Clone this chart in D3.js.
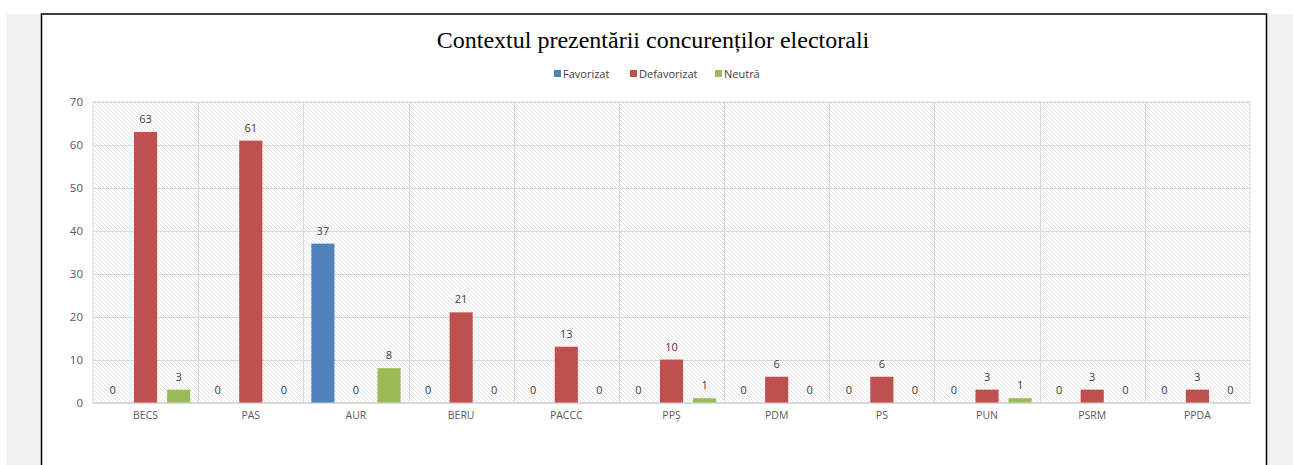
<!DOCTYPE html>
<html><head><meta charset="utf-8">
<script src="https://cdn.jsdelivr.net/npm/d3@7"></script>
<style>
html,body{margin:0;padding:0;background:#fff;}
svg{display:block;}
</style></head>
<body>
<svg id="chart" width="1293" height="465"></svg>
<script>
const title = "Contextul prezentării concurenților electorali";
const categories = ["BECS","PAS","AUR","BERU","PACCC","PPȘ","PDM","PS","PUN","PSRM","PPDA"];
const seriesNames = ["Favorizat","Defavorizat","Neutră"];
const favorizat   = [0,0,37,0,0,0,0,0,0,0,0];
const defavorizat = [63,61,0,21,13,10,6,6,3,3,3];
const neutra      = [3,0,8,0,0,1,0,0,1,0,0];
const yTicks = [0,10,20,30,40,50,60,70];
const colors = ["#4F81BD","#C0504D","#9BBB59"];

(function(){
const seriesValues = [favorizat, defavorizat, neutra];
const svg = d3.select("#chart");

svg.append("rect").attr("x",7).attr("y",14).attr("width",1286).attr("height",451).attr("fill","#f0f0f0");
svg.append("rect").attr("x",41.5).attr("y",14).attr("width",1225).attr("height",460)
  .attr("fill","#fff").attr("stroke","#000").attr("stroke-width",1.5);

const defs = svg.append("defs");
const pat = defs.append("pattern").attr("id","hatch").attr("patternUnits","userSpaceOnUse")
  .attr("width",4).attr("height",4);
pat.append("rect").attr("width",4).attr("height",4).attr("fill","#fff");
pat.append("path").attr("d","M-1,-1 L5,5 M-1,3 L1,5 M3,-1 L5,1").attr("stroke","#e0e0e0").attr("stroke-width",0.9);

const pLeft = 93, pRight = 1250, pTop = 102, pBottom = 402.5;
const x0 = d3.scaleBand().domain(categories).range([pLeft,pRight]).padding(0);
const x1 = d3.scaleBand().domain(seriesNames).range([3, x0.bandwidth()-3]).paddingInner(0.3).paddingOuter(0.15);
const y = d3.scaleLinear().domain([0,70]).range([pBottom,pTop]);

svg.append("rect").attr("x",pLeft).attr("y",pTop).attr("width",pRight-pLeft).attr("height",pBottom-pTop)
  .attr("fill","url(#hatch)").attr("stroke","#d9d9d9");

const grid = svg.append("g");
grid.selectAll("line.h").data(yTicks).join("line").attr("class","h")
  .attr("x1",pLeft).attr("x2",pRight).attr("y1",d=>Math.round(y(d))+0.5).attr("y2",d=>Math.round(y(d))+0.5)
  .attr("stroke","#d9d9d9").attr("stroke-width",1);
grid.selectAll("line.v").data(categories.slice(1)).join("line").attr("class","v")
  .attr("x1",d=>Math.round(x0(d))+0.5).attr("x2",d=>Math.round(x0(d))+0.5).attr("y1",pTop).attr("y2",pBottom)
  .attr("stroke","#d9d9d9").attr("stroke-width",1);

const yAxis = svg.append("g").attr("transform",`translate(${pLeft},0)`)
  .call(d3.axisLeft(y).tickValues(yTicks).tickSize(0).tickPadding(10));
yAxis.select(".domain").remove();
yAxis.selectAll("text").attr("fill","#595959").style("font-family","'Open Sans', sans-serif").style("font-size","11.5px");

const xAxis = svg.append("g").attr("transform",`translate(0,${pBottom})`)
  .call(d3.axisBottom(x0).tickSize(0).tickPadding(9));
xAxis.select(".domain").attr("stroke","#d9d9d9");
xAxis.selectAll("text").attr("fill","#595959").style("font-family","'Open Sans', sans-serif").style("font-size","10.5px");

const flat = [];
categories.forEach((c,i)=>seriesNames.forEach((s,j)=>flat.push({c,s,j,v:seriesValues[j][i]})));
svg.append("g").selectAll("rect").data(flat).join("rect")
  .attr("x",d=>x0(d.c)+x1(d.s)).attr("width",x1.bandwidth())
  .attr("y",d=>y(d.v)).attr("height",d=>y(0)-y(d.v))
  .attr("fill",d=>colors[d.j]);

svg.append("g").selectAll("text").data(flat).join("text")
  .attr("x",d=>x0(d.c)+x1(d.s)+x1.bandwidth()/2).attr("y",d=>y(d.v)-9)
  .attr("text-anchor","middle").attr("fill","#404040")
  .style("font-family","'Open Sans', sans-serif").style("font-size","11px")
  .text(d=>d.v);

svg.append("text").attr("x",653).attr("y",48).attr("text-anchor","middle")
  .attr("fill","#000").style("font-family","'Liberation Serif', serif").style("font-size","24px")
  .text(title);

const legendX = [554, 630, 715];
const lg = svg.append("g").selectAll("g").data(seriesNames).join("g")
  .attr("transform",(d,i)=>`translate(${legendX[i]},70)`);
lg.append("rect").attr("width",7).attr("height",7).attr("fill",(d,i)=>colors[i]);
lg.append("text").attr("x",9).attr("y",7.5).attr("fill","#404040")
  .style("font-family","'Open Sans', sans-serif").style("font-size","11px").text(d=>d);
})();
</script>
</body></html>
